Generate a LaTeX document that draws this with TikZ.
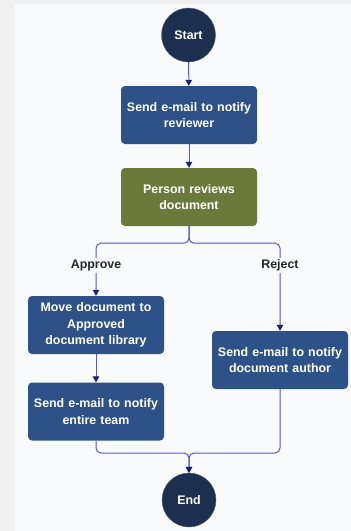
\documentclass[tikz,border=0pt]{standalone}
\usepackage{fontspec}
\setmainfont{Liberation Sans}
\usetikzlibrary{arrows.meta}
\definecolor{navy}{HTML}{1C2F4F}
\definecolor{boxblue}{HTML}{2E5288}
\definecolor{olive}{HTML}{6B7A3B}
\definecolor{linec}{HTML}{5656C4}
\definecolor{arrc}{HTML}{1A1A80}
\definecolor{panel}{HTML}{F9FAFB}
\definecolor{strip}{HTML}{F0F0F0}
\tikzset{
  every node/.style={font=\fontsize{12.4}{16.6}\selectfont\bfseries},
  term/.style={circle, fill=navy, draw=navy!80!white, minimum size=54pt, inner sep=0pt, text=white},
  task/.style={rectangle, rounded corners=4pt, fill=boxblue, minimum width=136pt, minimum height=58pt, text width=132pt, align=center, inner sep=0pt, text=white},
  review/.style={task, fill=olive},
  conn/.style={draw=linec, line width=1pt, -{Triangle[width=6.5pt,length=6pt,color=arrc]}},
  lbl/.style={fill=panel, inner sep=1.5pt, text=black!85}
}
\begin{document}
\begin{tikzpicture}[x=1pt,y=-1pt]
\useasboundingbox (0,0) rectangle (351,531);
\fill[strip] (0,0) rectangle (351,531);
\fill[panel] (15,4) rectangle (351,531);
\node[term] (s) at (188.5,35) {Start};
\node[task] (b1) at (189,115) {Send e-mail to notify\\reviewer};
\node[review] (b2) at (189,197) {Person reviews\\document};
\node[task] (b3) at (96,325) {Move document to\\Approved\\document library};
\node[task] (b4) at (96,411.5) {Send e-mail to notify\\entire team};
\node[task] (b5) at (280,360) {Send e-mail to notify\\document author};
\node[term] (e) at (189,500) {End};
\coordinate (m) at (189,453);
\draw[conn] (s) -- (b1);
\draw[conn] (b1) -- (b2);
\draw[conn, rounded corners=5pt] (b2.south) -- ++(0,17) -| (b3.north);
\draw[conn, rounded corners=5pt] (b2.south) -- ++(0,17) -| (b5.north);
\node[lbl] (la) at (96,265.5) {Approve};
\node[lbl] (lr) at (280,265.5) {Reject};
\draw[conn] (b3) -- (b4);
\draw[conn, rounded corners=5pt] (b4.south) |- (m) -- (e.north);
\draw[conn, rounded corners=5pt] (b5.south) |- (m) -- (e.north);
\end{tikzpicture}
\end{document}
